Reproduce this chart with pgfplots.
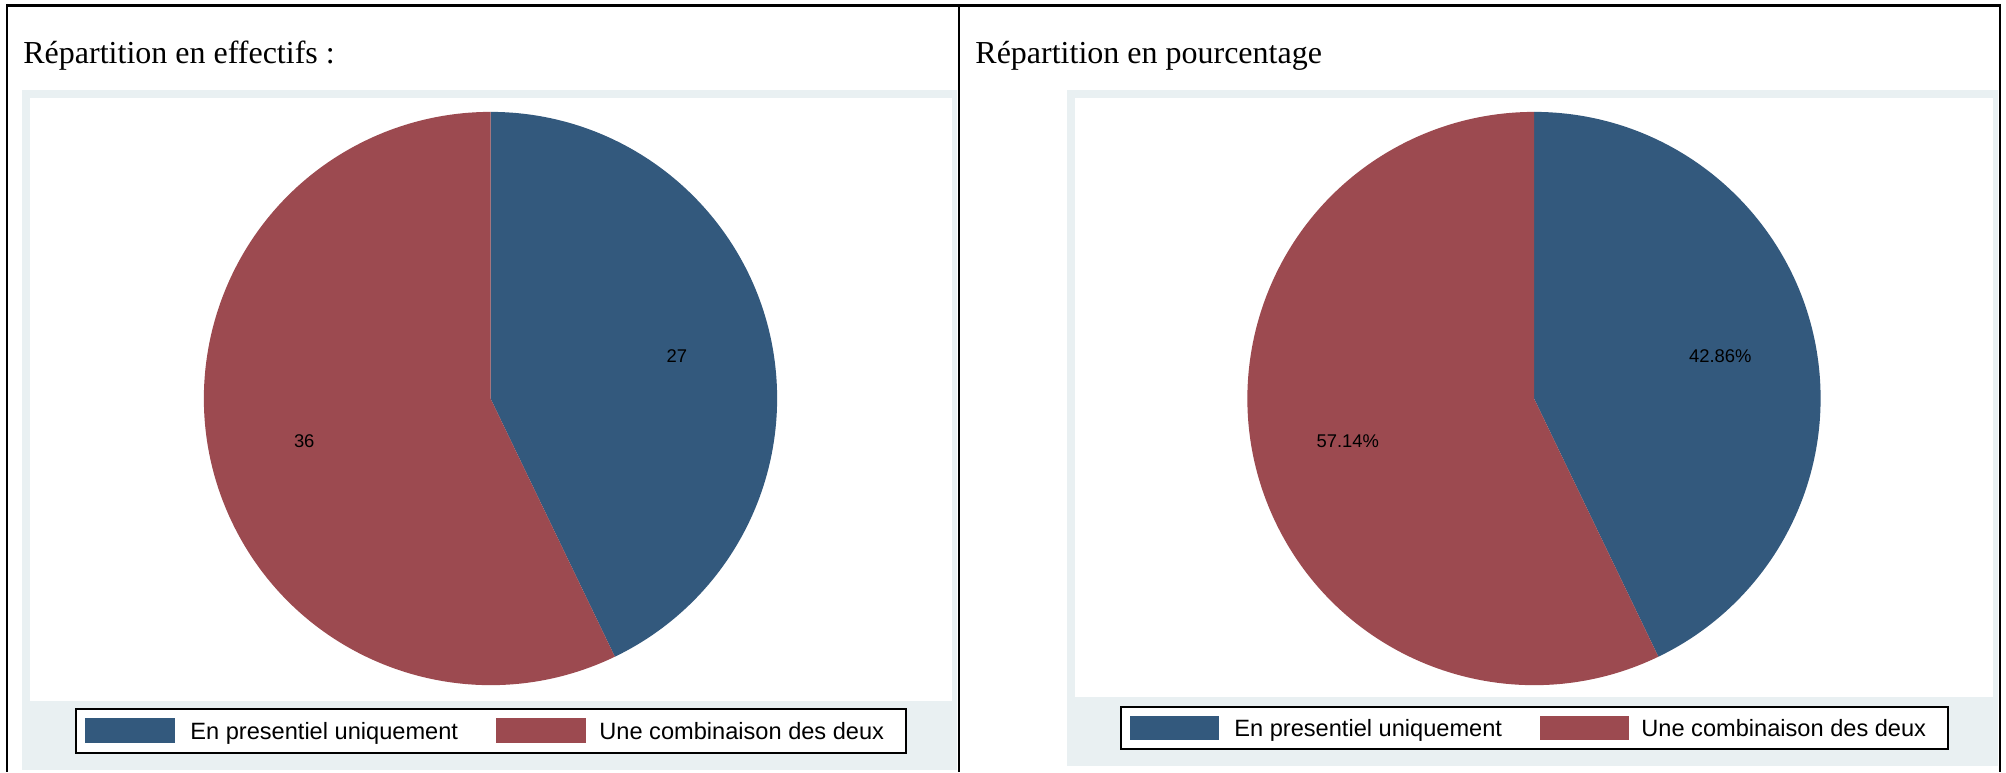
\documentclass[border=0pt]{standalone}
\usepackage{fontspec}
\setmainfont{Liberation Serif}
\newfontfamily\arial{Liberation Sans}
\usepackage{pgfplots}
\usepackage{pgfplotstable}
\pgfplotsset{compat=1.18}
\pgfkeys{/pgf/number format/assume math mode=true}
\definecolor{pieblue}{RGB}{51,89,125}
\definecolor{piered}{RGB}{156,74,80}
\definecolor{panelbg}{RGB}{233,240,242}

\pgfplotstableread{
group count
1 27
2 36
}\piedata

\pgfplotstablegetelem{0}{count}\of\piedata \let\nA\pgfplotsretval
\pgfplotstablegetelem{1}{count}\of\piedata \let\nB\pgfplotsretval
\pgfmathsetmacro\ntot{\nA+\nB}
\pgfmathsetmacro\aEnd{90-360*\nA/\ntot}
\pgfmathsetmacro\bEnd{\aEnd-360*\nB/\ntot}
\pgfmathsetmacro\aMid{(90+\aEnd)/2}
\pgfmathsetmacro\bMid{(\aEnd+\bEnd)/2}
\pgfmathsetmacro\pA{100*\nA/\ntot}
\pgfmathsetmacro\pB{100*\nB/\ntot}

\pgfplotsset{pieaxis/.style={scale only axis, hide axis, clip=false, anchor=south west}}
\newcommand\lblfont{\arial\fontsize{9.2}{11}\selectfont}
\newcommand\legfont{\arial\fontsize{11.8}{14}\selectfont}
\newcommand\titfont{\fontsize{16}{19}\selectfont}

\begin{document}
\begin{tikzpicture}
\useasboundingbox (0,0) rectangle (1003pt,386pt);
\begin{scope}[x=0.5pt,y=-0.5pt,yshift=386pt]
% panel backgrounds
\fill[panelbg] (22,90) rectangle (957,770);
\fill[white] (30,98) rectangle (952,701);
\fill[panelbg] (1067,90) rectangle (1998,766);
\fill[white] (1075,98) rectangle (1993,697);
% frame
\draw[line width=1.5pt] (6,5.5) -- (2001,5.5);
\draw[line width=1.25pt] (7,4) -- (7,772);
\draw[line width=1.25pt] (2000,4) -- (2000,772);
\draw[line width=1pt] (959,5) -- (959,772);
% titles
\node[anchor=base west, inner sep=0, font=\titfont] at (23,64) {Répartition en effectifs :};
\node[anchor=base west, inner sep=0, font=\titfont] at (975,64) {Répartition en pourcentage};
\end{scope}

% left pie
\begin{axis}[pieaxis, at={(15pt,35.5pt)}, width=461pt, height=301.5pt,
  xmin=-1.6068, xmax=1.6102, ymin=-1.0555, ymax=1.0485]
\fill[pieblue] (axis cs:0,0) -- (axis cs:0,1) arc[start angle=90, end angle=\aEnd, radius=143.3pt] -- cycle;
\fill[piered] (axis cs:0,0) -- (axis cs:{cos(\aEnd)},{sin(\aEnd)}) arc[start angle=\aEnd, end angle=\bEnd, radius=143.3pt] -- cycle;
\node[font=\lblfont, inner sep=0] at (axis cs:{2/3*cos(\aMid)},{2/3*sin(\aMid)}) {\pgfmathprintnumber{\nA}};
\node[font=\lblfont, inner sep=0] at (axis cs:{2/3*cos(\bMid)},{2/3*sin(\bMid)}) {\pgfmathprintnumber{\nB}};
\end{axis}

% right pie
\begin{axis}[pieaxis, at={(537.5pt,37.5pt)}, width=459pt, height=299.5pt,
  xmin=-1.6015, xmax=1.6015, ymin=-1.0415, ymax=1.0485]
\fill[pieblue] (axis cs:0,0) -- (axis cs:0,1) arc[start angle=90, end angle=\aEnd, radius=143.3pt] -- cycle;
\fill[piered] (axis cs:0,0) -- (axis cs:{cos(\aEnd)},{sin(\aEnd)}) arc[start angle=\aEnd, end angle=\bEnd, radius=143.3pt] -- cycle;
\node[font=\lblfont, inner sep=0] at (axis cs:{2/3*cos(\aMid)},{2/3*sin(\aMid)}) {\pgfmathprintnumber[fixed,fixed zerofill,precision=2]{\pA}\%};
\node[font=\lblfont, inner sep=0] at (axis cs:{2/3*cos(\bMid)},{2/3*sin(\bMid)}) {\pgfmathprintnumber[fixed,fixed zerofill,precision=2]{\pB}\%};
\end{axis}

\begin{scope}[x=0.5pt,y=-0.5pt,yshift=386pt]
% legends
\draw[line width=0.75pt, fill=white] (76,709) rectangle (906,753);
\fill[pieblue] (85,718) rectangle (175,743);
\fill[piered] (496,718) rectangle (586,743);
\node[anchor=base west, inner sep=0, font=\legfont] at (190,739.5) {En presentiel uniquement};
\node[anchor=base west, inner sep=0, font=\legfont] at (599,739.5) {Une combinaison des deux};

\draw[line width=0.75pt, fill=white] (1121,707) rectangle (1948,749);
\fill[pieblue] (1130,716) rectangle (1219,740);
\fill[piered] (1540,716) rectangle (1629,740);
\node[anchor=base west, inner sep=0, font=\legfont] at (1234,736.5) {En presentiel uniquement};
\node[anchor=base west, inner sep=0, font=\legfont] at (1641,736.5) {Une combinaison des deux};
\end{scope}
\end{tikzpicture}
\end{document}
